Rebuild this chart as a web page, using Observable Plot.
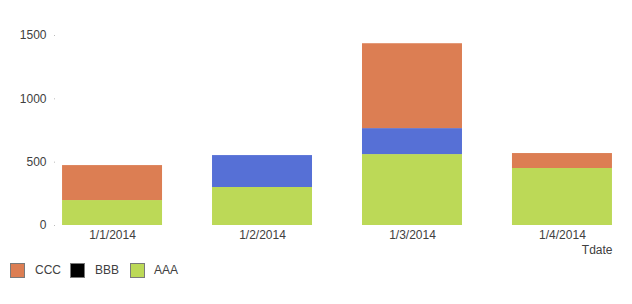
<!DOCTYPE html>
<html>
<head>
<meta charset="utf-8">
<script src="https://cdn.jsdelivr.net/npm/d3@7"></script>
<script src="https://cdn.jsdelivr.net/npm/@observablehq/plot@0.6"></script>
<style>
  body { margin: 0; background: #fff; font-family: Arial, "Liberation Sans", sans-serif; }
  #chart svg { display: block; }
  .legend { position: relative; height: 49px; font-size: 12px; color: #404040; }
  .legend .sw { position: absolute; top: 8px; width: 13px; height: 13px; border: 1px solid #7a7a7a; }
  .legend .lb { position: absolute; top: 8px; line-height: 15px; }
</style>
</head>
<body>
<div id="chart"></div>
<div class="legend" id="legend"></div>
<script>
const dates = ["1/1/2014", "1/2/2014", "1/3/2014", "1/4/2014"];
const series = ["AAA", "BBB", "CCC"];
const AAA = [197, 300, 560, 450];
const BBB = [0, 252, 205, 0];
const CCC = [276, 0, 670, 118];
const colors = ["#bcd957", "#5670d6", "#dc7e53"];
const legendItems = ["CCC", "BBB", "AAA"];
const legendColors = ["#dc7e53", "#000000", "#bcd957"];
const yTicks = [0, 500, 1000, 1500];

const values = {AAA, BBB, CCC};
const data = [];
series.forEach(s => dates.forEach((d, i) => data.push({date: d, series: s, value: values[s][i]})));

const chart = Plot.plot({
  width: 632,
  height: 255,
  marginLeft: 55,
  marginRight: 13,
  marginTop: 35,
  marginBottom: 30,
  style: {fontFamily: "Arial, 'Liberation Sans', sans-serif", fontSize: "12px", color: "#404040", background: "#fff"},
  x: {domain: dates, paddingInner: 1/3, paddingOuter: 0.047, round: false, label: null},
  y: {domain: [0, 1500], label: null},
  color: {domain: series, range: colors},
  marks: [
    Plot.barY(data, Plot.stackY({x: "date", y: "value", fill: "series", order: series})),
    Plot.axisY({ticks: yTicks, tickSize: 1, tickPadding: 8, stroke: "#bbb", fontSize: 12, fill: "#404040", tickFormat: d => String(d)}),
    Plot.axisX({tickSize: 0, tickPadding: 5, fontSize: 12, fill: "#404040", label: null}),
    Plot.text(["Tdate"], {frameAnchor: "bottom-right", dx: -7, dy: 28, textAnchor: "end", fill: "#404040", fontSize: 12, text: d => d})
  ]
});
document.getElementById("chart").appendChild(chart);

const legend = document.getElementById("legend");
const swX = [10, 70, 130];
const lbX = [35, 95, 154];
legendItems.forEach((name, i) => {
  const sw = document.createElement("div");
  sw.className = "sw";
  sw.style.left = swX[i] + "px";
  sw.style.background = legendColors[i];
  legend.appendChild(sw);
  const lb = document.createElement("div");
  lb.className = "lb";
  lb.style.left = lbX[i] + "px";
  lb.textContent = name;
  legend.appendChild(lb);
});
</script>
</body>
</html>
